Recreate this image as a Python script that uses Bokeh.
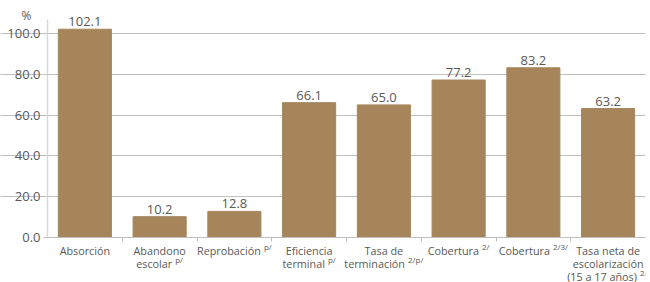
from bokeh.plotting import figure
from bokeh.models import (ColumnDataSource, LabelSet, Label, Range1d, FixedTicker,
                          PrintfTickFormatter)
from bokeh.core.properties import value
from bokeh.embed import file_html
from bokeh.resources import INLINE

# ---- data ----
categories = ["Absorción", "Abandono escolar", "Reprobación", "Eficiencia terminal",
              "Tasa de terminación", "Cobertura", "Cobertura",
              "Tasa neta de escolarización (15 a 17 años)"]
values = [102.1, 10.2, 12.8, 66.1, 65.0, 77.2, 83.2, 63.2]
label_lines = [
    [("Absorción", "")],
    [("Abandono", ""), ("escolar", "p/")],
    [("Reprobación", "p/")],
    [("Eficiencia", ""), ("terminal", "p/")],
    [("Tasa de", ""), ("terminación", "2/p/")],
    [("Cobertura", "2/")],
    [("Cobertura", "2/3/")],
    [("Tasa neta de", ""), ("escolarización", ""), ("(15 a 17 años)", "2/")],
]
y_ticks = [0, 20, 40, 60, 80, 100]
unit_label = "%"

BAR = "#A6855B"
TXT = "#595959"
FONT = "Open Sans"
LBL_SIZE = 10.8

# approximate Open Sans advance widths (per 1000 em)
W = {' ': 260, 'a': 556, 'b': 613, 'c': 476, 'd': 613, 'e': 561, 'f': 339, 'g': 548,
     'h': 614, 'i': 253, 'j': 253, 'k': 525, 'l': 253, 'm': 930, 'n': 614, 'o': 604,
     'p': 613, 'q': 613, 'r': 408, 's': 477, 't': 353, 'u': 614, 'v': 501, 'w': 778,
     'x': 524, 'y': 502, 'z': 477, 'ó': 604, 'ñ': 614, 'A': 633, 'C': 631, 'E': 556,
     'R': 618, 'T': 549, '(': 295, ')': 295, '/': 373, '.': 266}


def tw(s, size):
    return sum(W.get(ch, 572) for ch in s) * size / 1000.0


n = len(categories)
xs = [i + 0.5 for i in range(n)]
WIDTH, HEIGHT = 650, 282
LEFT_PX, RIGHT_PX, TOP_PX, BASE_PX = 47, 5, 8, 237
PX_PER_CAT = (WIDTH - LEFT_PX - RIGHT_PX) / n
PX_PER_UNIT = 2.04
Y_END = (BASE_PX - TOP_PX) / PX_PER_UNIT
Y_START = -(HEIGHT - BASE_PX) / PX_PER_UNIT
X_START = -LEFT_PX / PX_PER_CAT

p = figure(width=WIDTH, height=HEIGHT, output_backend="svg", toolbar_location=None,
           x_range=Range1d(X_START, n), y_range=Range1d(Y_START, Y_END),
           min_border_left=0, min_border_right=RIGHT_PX, min_border_top=TOP_PX,
           min_border_bottom=0)
p.outline_line_color = None
p.background_fill_color = "white"
p.border_fill_color = "white"

p.vbar(x=xs, top=values, width=0.71, color=BAR)

# value labels
vsrc = ColumnDataSource(dict(x=xs, y=values, t=[f"{v:.1f}" for v in values]))
p.add_layout(LabelSet(x="x", y="y", text="t", source=vsrc, y_offset=3,
                      text_align="center", text_baseline="bottom",
                      text_font=value(FONT), text_font_size=value("13px"),
                      text_color=value(TXT)))

# category labels (with superscripts)
mx, my, mt, mxo, myo = [], [], [], [], []
sx, sy, st, sxo, syo = [], [], [], [], []
for i, lines in enumerate(label_lines):
    cx_px = LEFT_PX + xs[i] * PX_PER_CAT
    for j, (main, sup) in enumerate(lines):
        wm = tw(main, LBL_SIZE)
        ws = (tw(sup, 8) + 3) if sup else 0
        shift = min(0.0, (WIDTH - 3) - (cx_px + (wm + ws) / 2))
        mx.append(xs[i]); my.append(0); mt.append(main)
        mxo.append(-ws / 2 + shift); myo.append(-13 - 13 * j)
        if sup:
            sx.append(xs[i]); sy.append(0); st.append(sup)
            sxo.append(wm / 2 - ws / 2 + 3 + shift); syo.append(-9 - 13 * j)

msrc = ColumnDataSource(dict(x=mx, y=my, t=mt, xo=mxo, yo=myo))
p.add_layout(LabelSet(x="x", y="y", text="t", source=msrc, x_offset="xo", y_offset="yo",
                      text_align="center", text_baseline="middle",
                      text_font=value(FONT), text_font_size=value(f"{LBL_SIZE}px"),
                      text_color=value(TXT)))
ssrc = ColumnDataSource(dict(x=sx, y=sy, t=st, xo=sxo, yo=syo))
p.add_layout(LabelSet(x="x", y="y", text="t", source=ssrc, x_offset="xo", y_offset="yo",
                      text_align="left", text_baseline="middle",
                      text_font=value(FONT), text_font_size=value("8px"),
                      text_color=value(TXT)))

# unit label "%" at the top-left of the value axis
p.add_layout(Label(x=0, y=Y_END, text=unit_label, x_offset=-21, y_offset=-7,
                   text_align="center", text_baseline="middle",
                   text_font=FONT, text_font_size="12px", text_color=TXT))

# y axis, drawn at x = 0 inside the frame
ya = p.yaxis[0]
ya.fixed_location = 0
ya.ticker = FixedTicker(ticks=y_ticks)
ya.formatter = PrintfTickFormatter(format="%.1f")
ya.bounds = (0, 107)
ya.axis_line_color = "#d9d9d9"
ya.axis_line_width = 1.5
ya.major_tick_line_color = "#bfbfbf"
ya.major_tick_out = 4
ya.major_tick_in = 0
ya.minor_tick_line_color = None
ya.major_label_standoff = 3
ya.major_label_text_font = FONT
ya.major_label_text_font_size = "13px"
ya.major_label_text_color = TXT

# x axis at y = 0 inside the frame
xa = p.xaxis[0]
xa.fixed_location = 0
xa.bounds = (0, n)
xa.ticker = FixedTicker(ticks=list(range(1, n)))
xa.axis_line_color = "#bfbfbf"
xa.major_tick_line_color = "#bfbfbf"
xa.major_tick_out = 4
xa.major_tick_in = 0
xa.minor_tick_line_color = None
xa.major_label_text_font_size = "0px"

p.xgrid.grid_line_color = None
p.ygrid.grid_line_color = "#bfbfbf"
p.ygrid.ticker = FixedTicker(ticks=y_ticks[1:])
p.ygrid.bounds = (0, n)

open("out.html", "w").write(file_html(p, INLINE))
